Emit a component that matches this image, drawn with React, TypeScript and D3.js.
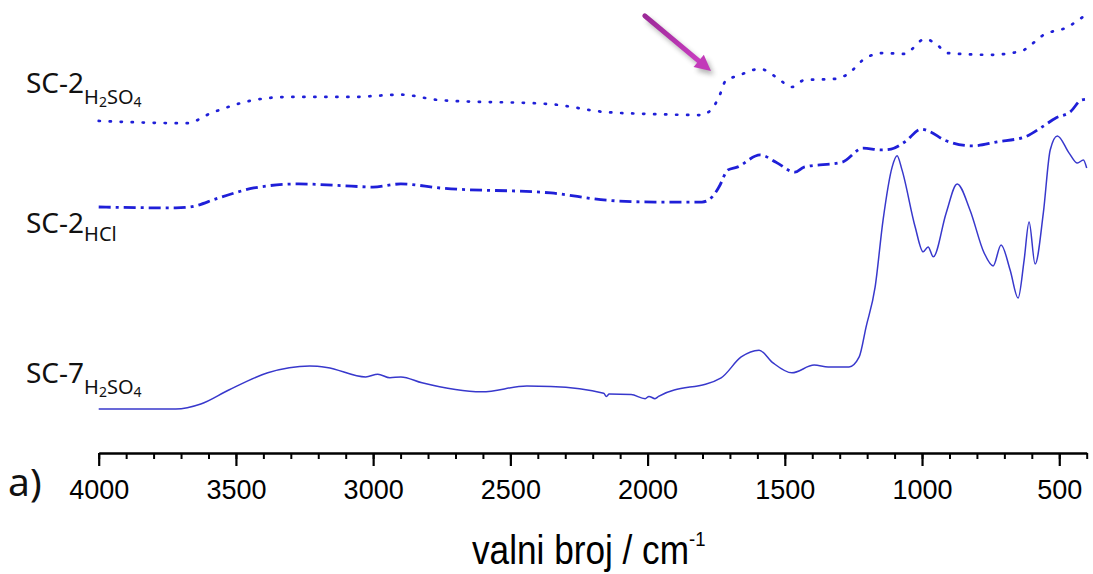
import React, { useRef, useEffect } from 'react';
import * as d3 from 'd3';

// wavenumber (cm-1) / relative intensity (a.u.)
const wnDotted = [4000, 3679, 3588, 3435, 3307, 3078, 2899, 2757, 2352, 2159, 1969, 1809, 1769, 1740, 1714, 1674, 1590, 1532, 1474, 1430, 1317, 1277, 1200, 1138, 1065, 989, 945, 908, 752, 639, 595, 562, 471, 400];
const valDotted = [73.3, 72.8, 75.1, 77.9, 78.6, 78.6, 79.1, 77.9, 77.0, 75.3, 74.8, 74.6, 75.7, 78.6, 82.3, 83.2, 84.8, 83.0, 80.8, 82.3, 82.6, 83.4, 87.4, 88.3, 88.1, 91.4, 90.1, 88.3, 87.9, 88.7, 90.5, 92.1, 94.0, 96.9];

const wnDashDot = [4000, 3719, 3668, 3563, 3435, 3271, 3078, 3001, 2899, 2757, 2352, 2148, 1969, 1802, 1765, 1740, 1707, 1674, 1590, 1532, 1463, 1430, 1291, 1215, 1149, 1113, 1062, 1003, 970, 919, 817, 726, 624, 562, 511, 460, 420, 400];
const valDashDot = [54.3, 54.1, 54.3, 56.3, 58.5, 59.4, 58.9, 58.7, 59.4, 58.5, 57.4, 55.8, 55.4, 55.4, 56.5, 58.7, 62.5, 63.1, 65.8, 64.2, 62.0, 63.1, 64.2, 67.3, 66.9, 67.1, 68.7, 71.5, 70.9, 69.1, 67.8, 68.7, 69.8, 72.0, 74.0, 75.3, 77.9, 78.1];

const wnSolid = [4000, 3719, 3628, 3526, 3384, 3231, 3169, 3027, 2983, 2939, 2899, 2822, 2604, 2440, 2352, 2160, 2150, 2140, 2060, 2009, 1995, 1973, 1960, 1732, 1659, 1594, 1543, 1474, 1393, 1342, 1266, 1229, 1204, 1171, 1142, 1109, 1091, 1073, 1025, 996, 978, 959, 912, 872, 825, 774, 741, 712, 679, 650, 628, 610, 588, 558, 533, 507, 464, 434, 412, 400];
const valSolid = [9.7, 9.7, 10.8, 13.9, 17.7, 19.2, 18.9, 16.8, 17.4, 16.6, 16.8, 15.5, 13.5, 14.8, 14.7, 13.2, 12.5, 13.0, 12.9, 12.0, 12.5, 12.0, 12.5, 16.6, 21.2, 22.7, 19.9, 17.7, 19.4, 19.0, 19.0, 21.2, 27.8, 36.6, 51.4, 63.1, 65.6, 62.5, 49.9, 44.4, 45.5, 43.3, 53.0, 59.4, 53.6, 44.2, 41.3, 45.9, 40.4, 34.2, 42.6, 51.0, 41.7, 53.0, 66.9, 70.0, 66.2, 64.0, 64.7, 62.9];

const majorTicks = [4000, 3500, 3000, 2500, 2000, 1500, 1000, 500];
const minorTicks = d3.range(4000, 399, -100);

const W = 1093;
const H = 574;

const App: React.FC = () => {
  const axisRef = useRef<SVGGElement | null>(null);
  const minorRef = useRef<SVGGElement | null>(null);

  const x = d3.scaleLinear().domain([4000, 400]).range([98.7, 1086.7]);
  const y = d3.scaleLinear().domain([0, 100]).range([453, 0]);

  const line = d3.line<[number, number]>()
    .x(d => x(d[0]))
    .y(d => y(d[1]))
    .curve(d3.curveMonotoneX);

  const zip = (a: number[], b: number[]) => a.map((v, i) => [v, b[i]] as [number, number]);

  useEffect(() => {
    const g = d3.select(axisRef.current);
    g.call(d3.axisBottom(x).tickValues(majorTicks).tickSize(13).tickSizeOuter(0).tickFormat(d3.format('d')));
    g.select('.domain').attr('stroke-width', 2.5).attr('stroke', '#000');
    g.selectAll('.tick line').attr('stroke-width', 2.2);
    g.selectAll('.tick text')
      .attr('y', 46)
      .attr('dy', 0)
      .style('font-family', '"Liberation Sans", Arial, sans-serif')
      .style('font-size', '27px')
      .attr('fill', '#000');

    const m = d3.select(minorRef.current);
    m.call(d3.axisBottom(x).tickValues(minorTicks).tickSize(6).tickSizeOuter(0).tickFormat(() => ''));
    m.select('.domain').remove();
    m.selectAll('.tick line').attr('stroke-width', 2);
  }, []);

  const labelFont = '"Noto Sans", "Open Sans", sans-serif';
  const arrowTip: [number, number] = [x(1769), y(84.3)];
  const arrowTail: [number, number] = [x(2010), y(96.5)];
  const ang = Math.atan2(arrowTip[1] - arrowTail[1], arrowTip[0] - arrowTail[0]);
  const headLen = 16;
  const headW = 8;
  const base: [number, number] = [arrowTip[0] - headLen * Math.cos(ang), arrowTip[1] - headLen * Math.sin(ang)];
  const head = [
    arrowTip,
    [base[0] + headW * Math.sin(ang), base[1] - headW * Math.cos(ang)],
    [base[0] - headW * Math.sin(ang), base[1] + headW * Math.cos(ang)],
  ].map(p => p.join(',')).join(' ');

  return (
    <svg width={W} height={H} style={{ position: 'absolute', left: 0, top: 0, background: '#fff' }}>
      <defs>
        <filter id="shadow" x="-20%" y="-20%" width="140%" height="140%">
          <feGaussianBlur stdDeviation="2.5" />
        </filter>
        <linearGradient id="arrowGrad" x1="0" y1="0" x2="1" y2="1">
          <stop offset="0" stopColor="#9c2a98" />
          <stop offset="1" stopColor="#c83cc0" />
        </linearGradient>
      </defs>

      <path d={line(zip(wnDotted, valDotted)) || ''} fill="none" stroke="#1f1fd8" strokeWidth={2.7}
        strokeDasharray="1.2 9.8" strokeLinecap="round" />
      <path d={line(zip(wnDashDot, valDashDot)) || ''} fill="none" stroke="#1f1fd8" strokeWidth={2.8}
        strokeDasharray="12 5 3 5" />
      <path d={line(zip(wnSolid, valSolid)) || ''} fill="none" stroke="#3838cc" strokeWidth={1.5} />

      <g transform="translate(0,453)" ref={minorRef} />
      <g transform="translate(0,453)" ref={axisRef} />

      {/* annotation arrow */}
      <g opacity={0.45} filter="url(#shadow)" transform="translate(3,4)">
        <line x1={arrowTail[0]} y1={arrowTail[1]} x2={base[0]} y2={base[1]} stroke="#555" strokeWidth={5} />
        <polygon points={head} fill="#555" />
      </g>
      <line x1={arrowTail[0]} y1={arrowTail[1]} x2={base[0]} y2={base[1]} stroke="url(#arrowGrad)" strokeWidth={5} strokeLinecap="round" />
      <polygon points={head} fill="#c23ab9" />

      <g fontFamily={labelFont} fill="#111">
        <text x={26} y={93} fontSize={28}>SC-2
          <tspan fontSize={20} dy={11}>H</tspan>
          <tspan fontSize={14} dy={3}>2</tspan>
          <tspan fontSize={20} dy={-3}>SO</tspan>
          <tspan fontSize={14} dy={3}>4</tspan>
        </text>
        <text x={26} y={233} fontSize={28}>SC-2
          <tspan fontSize={20} dy={8}>HCl</tspan>
        </text>
        <text x={26} y={383} fontSize={28}>SC-7
          <tspan fontSize={20} dy={11}>H</tspan>
          <tspan fontSize={14} dy={3}>2</tspan>
          <tspan fontSize={20} dy={-3}>SO</tspan>
          <tspan fontSize={14} dy={3}>4</tspan>
        </text>
        <text x={8} y={496} fontSize={39}>a)</text>
      </g>

      <g transform="translate(472,564) scale(0.88,1)" fontFamily='"Liberation Sans", Arial, sans-serif' fill="#000">
        <text x={0} y={0} fontSize={40}>valni broj / cm
          <tspan fontSize={21} dy={-18}>-1</tspan>
        </text>
      </g>
    </svg>
  );
};

export default App;
